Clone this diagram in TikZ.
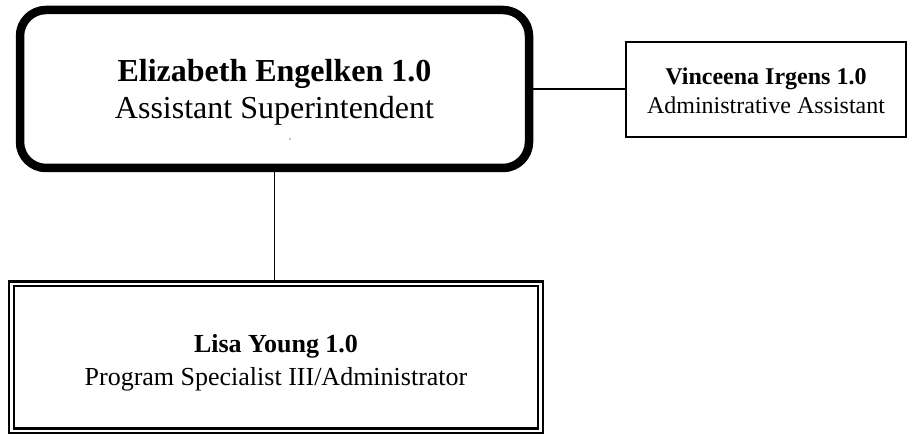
\documentclass[tikz,border=0pt]{standalone}
\usepackage{fontspec}
\setmainfont{Liberation Serif}
\usepackage{tikz}
\usetikzlibrary{positioning}

\tikzset{
  headbox/.style={draw, line width=8.5pt, rounded corners=26pt,
    minimum width=509pt, minimum height=158pt, align=center,
    font=\fontsize{32}{37}\selectfont, text height=60pt, text depth=0pt},
  staffbox/.style={draw, line width=2pt, minimum width=280pt,
    minimum height=95pt, align=center,
    font=\fontsize{24}{29}\selectfont, text height=49pt, text depth=0pt},
  reportbox/.style={draw, line width=2.4pt, double, double distance=2.2pt,
    minimum width=529pt, minimum height=147pt, align=center,
    font=\fontsize{26}{33}\selectfont, text height=57pt, text depth=0pt},
  link/.style={draw, line width=1.6pt}
}

\begin{document}
\begin{tikzpicture}[x=1pt, y=1pt]
    \useasboundingbox (0,0) rectangle (908,435);

    \node[headbox] (engelken) at (274.5,346) {
      \textbf{Elizabeth Engelken 1.0}\\
      Assistant Superintendent
    };
    \node[staffbox] (irgens) at (766,345.5) {
      \textbf{Vinceena Irgens 1.0}\\
      Administrative Assistant
    };
    \node[reportbox] (young) at (276,77.5) {
      \textbf{Lisa Young 1.0}\\
      Program Specialist III/Administrator
    };

    % stray mark under the title
    \fill ([xshift=15.5pt,yshift=-50pt]engelken.center) circle (0.7pt);

    \draw[link] (engelken.east) -- (engelken.east -| irgens.west);
    \draw[link] (engelken.south) -- (engelken.south |- young.north);
  \end{tikzpicture}
\end{document}
